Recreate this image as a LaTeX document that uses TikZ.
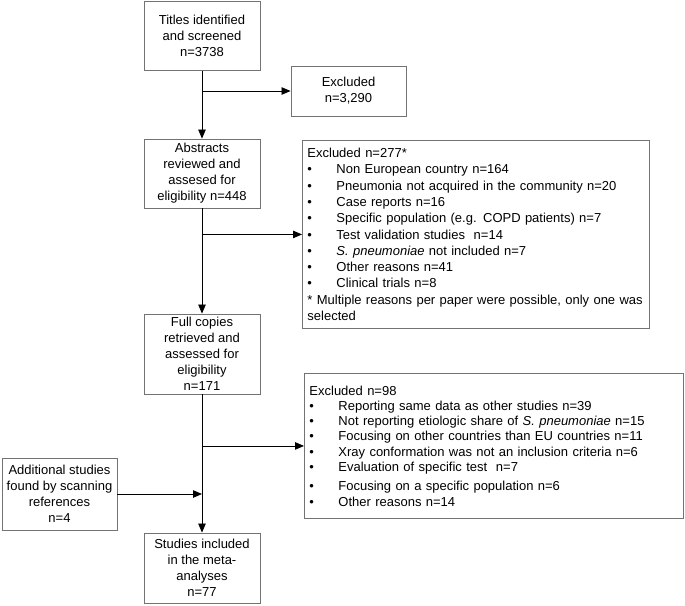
\documentclass[tikz,border=0pt]{standalone}
\usepackage{fontspec}
\setmainfont{Liberation Sans}
\usetikzlibrary{arrows.meta}
\newcommand\bul{\makebox[29pt][l]{\textbullet}}
\begin{document}
\begin{tikzpicture}[x=1pt,y=-1pt,>={Triangle[length=9pt,width=7.5pt]},
	box/.style={draw=black!55,line width=0.9pt,align=center,inner sep=0pt,font=\fontsize{13}{16}\selectfont},
	exbox/.style={draw=black!55,line width=0.9pt,align=left,inner xsep=5pt,inner ysep=0pt,anchor=north west},
	link/.style={line width=0.8pt}]
	\useasboundingbox (0,0) rectangle (685,605);
	% main column
	\node[box,minimum width=116pt,minimum height=69pt] (titles) at (202,36) {Titles identified\\and screened\\n=3738};
	\node[box,minimum width=115pt,minimum height=50pt] (excl1) at (348.5,91) {Excluded\\n=3,290};
	\node[box,minimum width=116pt,minimum height=69pt] (abstracts) at (202,173.5) {Abstracts\\reviewed and\\assesed for\\eligibility n=448};
	\node[box,minimum width=116pt,minimum height=80pt] (full) at (202,354) {Full copies\\retrieved and\\assessed for\\eligibility\\n=171};
	\node[box,minimum width=115pt,minimum height=72pt] (add) at (59.5,494) {Additional studies\\found by scanning\\references\\n=4};
	\node[box,minimum width=116pt,minimum height=70pt] (studies) at (202,568) {Studies included\\in the meta-\\analyses\\n=77};
	% exclusion lists
	\node[exbox,text width=337pt,minimum height=188pt,font=\fontsize{13}{16.3}\selectfont] (excl2) at (302,140) {Excluded n=277*\\
		\bul Non European country n=164\\
		\bul Pneumonia not acquired in the community n=20\\
		\bul Case reports n=16\\
		\bul Specific population (e.g. COPD patients) n=7\\
		\bul Test validation studies\ \ n=14\\
		\bul \textit{S. pneumoniae} not included n=7\\
		\bul Other reasons n=41\\
		\bul Clinical trials n=8\\
		{*} Multiple reasons per paper were possible, only one was\\
		selected};
	\node[exbox,text width=369pt,minimum height=145pt,font=\fontsize{13}{15.3}\selectfont] (excl3) at (304,373) {Excluded n=98\\
		\bul Reporting same data as other studies n=39\\
		\bul Not reporting etiologic share of \textit{S. pneumoniae} n=15\\
		\bul Focusing on other countries than EU countries n=11\\
		\bul Xray conformation was not an inclusion criteria n=6\\
		\bul Evaluation of specific test\ \ n=7\\[4pt]
		\bul Focusing on a specific population n=6\\
		\bul Other reasons n=14};
	% connectors
	\coordinate (j1) at (titles.south |- excl1.west);
	\coordinate (j2) at (abstracts.south |- excl2.west);
	\coordinate (j3) at (full.south |- excl3.west);
	\coordinate (j4) at (full.south |- add.east);
	\draw[link,->] (titles) -- (abstracts);
	\draw[link,->] (abstracts) -- (full);
	\draw[link,->] (full) -- (studies);
	\draw[link,->] (j1) -- (excl1);
	\draw[link,->] (j2) -- (excl2);
	\draw[link,->] (j3) -- (excl3);
	\draw[link,->] (add) -- (j4);
\end{tikzpicture}
\end{document}
